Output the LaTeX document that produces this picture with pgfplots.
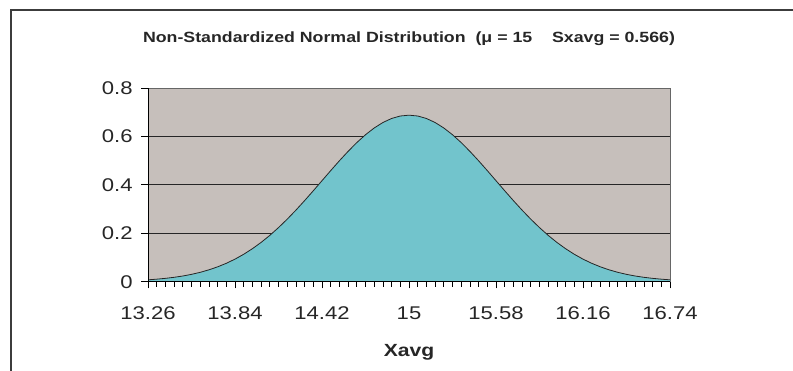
\documentclass[border=0pt]{standalone}
\usepackage{pgfplots}
\pgfplotsset{compat=1.18}
\usepackage{fontspec}
\setmainfont{Liberation Sans}
\newfontfamily\chartfont{Liberation Sans}[FakeStretch=1.2]

\definecolor{plotgray}{RGB}{198,191,187}
\definecolor{curvefill}{RGB}{114,196,204}
\definecolor{framegray}{RGB}{60,60,60}

% Normal density of the sample mean, sampled every 0.058 from 13.26 to 16.74
\pgfplotstableread{
x      y
13.260 0.0076
13.318 0.0103
13.376 0.0137
13.434 0.0180
13.492 0.0234
13.550 0.0302
13.608 0.0386
13.666 0.0489
13.724 0.0612
13.782 0.0759
13.840 0.0931
13.898 0.1132
13.956 0.1362
14.014 0.1622
14.072 0.1913
14.130 0.2234
14.188 0.2582
14.246 0.2955
14.304 0.3349
14.362 0.3757
14.420 0.4173
14.478 0.4589
14.536 0.4996
14.594 0.5385
14.652 0.5747
14.710 0.6072
14.768 0.6351
14.826 0.6577
14.884 0.6744
14.942 0.6846
15.000 0.6880
15.058 0.6846
15.116 0.6744
15.174 0.6577
15.232 0.6351
15.290 0.6072
15.348 0.5747
15.406 0.5385
15.464 0.4996
15.522 0.4589
15.580 0.4173
15.638 0.3757
15.696 0.3349
15.754 0.2955
15.812 0.2582
15.870 0.2234
15.928 0.1913
15.986 0.1622
16.044 0.1362
16.102 0.1132
16.160 0.0931
16.218 0.0759
16.276 0.0612
16.334 0.0489
16.392 0.0386
16.450 0.0302
16.508 0.0234
16.566 0.0180
16.624 0.0137
16.682 0.0103
16.740 0.0076
}\densitytable

\begin{document}
\begin{tikzpicture}
\useasboundingbox (0,0) rectangle (594.75pt,278.25pt);
% chart frame (top and left edges)
\draw[framegray, line width=1.1pt] (8.25pt,0) -- (8.25pt,270.75pt) -- (594.75pt,270.75pt);

\begin{axis}[
  at={(111pt,67pt)}, anchor=south west,
  width=391.5pt, height=145.2pt, scale only axis,
  xmin=13.26, xmax=16.74, ymin=0, ymax=0.8,
  axis background/.style={fill=plotgray},
  axis line style={draw=gray!80!black, line width=0.6pt},
  tick pos=left, tick align=outside,
  xtick={13.26,13.84,14.42,15,15.58,16.16,16.74},
  xticklabels={13.26,13.84,14.42,15,15.58,16.16,16.74},
  minor x tick num=9,
  ytick={0,0.2,0.4,0.6,0.8},
  yticklabels={0,0.2,0.4,0.6,0.8},
  major tick length=5pt, minor tick length=4pt,
  every tick/.style={black, line width=0.6pt},
  ticklabel style={font=\chartfont\fontsize{13.8}{15}\selectfont, text=black!85},
  xticklabel style={yshift=-10.5pt},
  yticklabel style={xshift=-3pt},
  ymajorgrids, major grid style={black!85, line width=0.7pt},
  xlabel={Xavg},
  xlabel style={font=\chartfont\bfseries\fontsize{13.2}{14}\selectfont, text=black!85,
    anchor=center, at={(axis description cs:0.5,-0.364)}},
  title={Non-Standardized Normal Distribution\ \ (μ = 15\ \ \ \ Sxavg = 0.566)},
  title style={font=\chartfont\bfseries\fontsize{11.1}{12}\selectfont, text=black!85,
    anchor=center, at={(axis description cs:0.5,1.216)}},
  clip=true,
]
\addplot[fill=curvefill, draw=none] table[x=x, y=y] {\densitytable} \closedcycle;
\addplot[black!85, line width=0.6pt] table[x=x, y=y] {\densitytable};
\draw[black, line width=0.8pt] (rel axis cs:0,1) -- (rel axis cs:0,0) -- (rel axis cs:1,0);
\end{axis}
\end{tikzpicture}
\end{document}
